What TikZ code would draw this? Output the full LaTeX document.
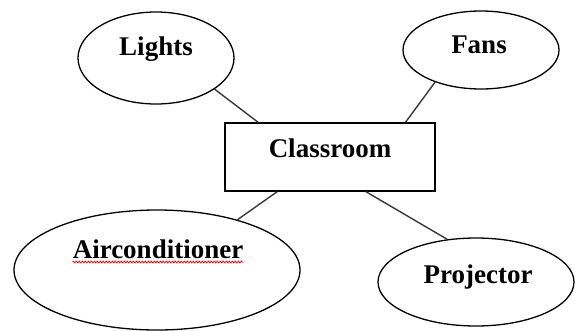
\documentclass[tikz,border=0pt]{standalone}
\usepackage{fontspec}
\setmainfont{Liberation Serif}
\usetikzlibrary{calc,shapes.geometric,decorations.pathmorphing}
\definecolor{linegray}{HTML}{383838}
\begin{document}
\begin{tikzpicture}[x=1pt,y=-1pt,
  oval/.style={draw=black,line width=1.3pt,ellipse,inner sep=0pt},
  boxnode/.style={draw=black,line width=1.4pt,rectangle,inner sep=0pt,minimum width=210pt,minimum height=68pt},
  lbl/.style={font=\fontsize{27}{30}\selectfont\bfseries,anchor=base,inner sep=0pt},
  conn/.style={draw=linegray,line width=1.4pt}]
\useasboundingbox (0,0) rectangle (577,330);
\fill[white] (0,0) rectangle (577,330);
\node[oval,minimum width=156pt,minimum height=92pt] (lights) at (156,58) {};
\node[oval,minimum width=156pt,minimum height=78pt] (fans) at (481,50) {};
\node[boxnode] (room) at (330,157) {};
\node[oval,minimum width=286pt,minimum height=120pt] (air) at (157,270) {};
\node[oval,minimum width=196pt,minimum height=88pt] (proj) at (476,282) {};
\node[lbl] (tlights) at (156,55) {Lights};
\node[lbl] (tfans) at (479,53) {Fans};
\node[lbl] (troom) at (330,157) {Classroom};
\node[lbl] (tair) at (158,258) {Airconditioner};
\node[lbl] (tproj) at (478,283) {Projector};
\draw[red,line width=0.7pt,decorate,decoration={zigzag,amplitude=1pt,segment length=3pt}]
  ($(tair.base west)+(0,4)$) -- ($(tair.base east)+(0,4)$);
\draw[conn] (lights.-28.5) -- ($(room.north west)!0.16!(room.north east)$);
\draw[conn] (fans.215) -- ($(room.north west)!0.857!(room.north east)$);
\draw[conn] (air.32.8) -- ($(room.south west)!0.25!(room.south east)$);
\draw[conn] (proj.124) -- ($(room.south west)!0.67!(room.south east)$);
\end{tikzpicture}
\end{document}
